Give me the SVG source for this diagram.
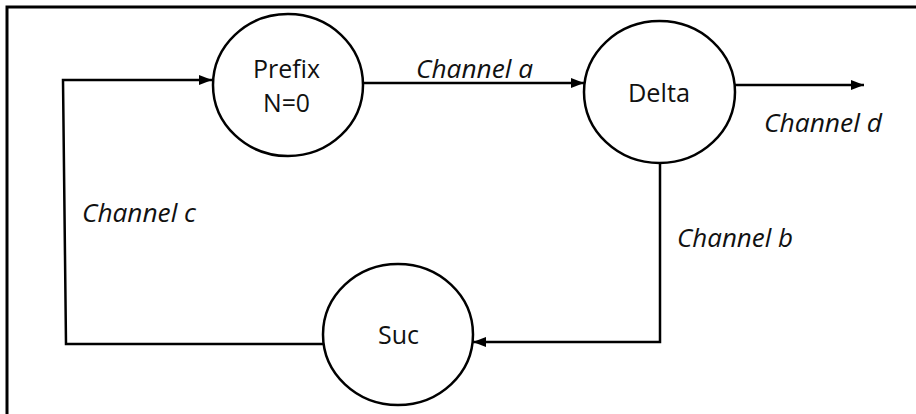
<svg xmlns="http://www.w3.org/2000/svg" width="916" height="414" viewBox="0 0 916 414">
  <style>
    .frame { fill: none; stroke: #000; stroke-width: 3; }
    .node { fill: #fff; stroke: #000; stroke-width: 2.5; }
    .edge { fill: none; stroke: #000; stroke-width: 2.5; }
    .name { font-family: "Open Sans", "Noto Sans", sans-serif; font-size: 25px; fill: #111; }
    .chan { font-family: "Open Sans", "Noto Sans", sans-serif; font-size: 25px; font-style: italic; fill: #111; }
  </style>
  <defs>
    <marker id="arrow" viewBox="0 0 13 10" refX="13" refY="5" markerWidth="13" markerHeight="10" markerUnits="userSpaceOnUse" orient="auto">
      <path d="M0,0 L13,5 L0,10 Z" fill="#000"/>
    </marker>
  </defs>

  <rect width="916" height="414" fill="#fff"/>
  <!-- open frame: top and left rules -->
  <path class="frame" d="M7,414 V7 H916"/>

  <g id="connectors">
    <!-- Channel c: Suc back to Prefix -->
    <path class="edge" d="M323,344 L66,344 L63,80 L212,80" marker-end="url(#arrow)"/>
    <!-- Channel a: Prefix to Delta -->
    <path class="edge" d="M363,83 L584,83" marker-end="url(#arrow)"/>
    <!-- Channel d: Delta output -->
    <path class="edge" d="M735,85 L864,85" marker-end="url(#arrow)"/>
    <!-- Channel b: Delta to Suc -->
    <path class="edge" d="M660,163 L660,342 L473,342" marker-end="url(#arrow)"/>
    <text class="chan" x="416" y="78" textLength="117" lengthAdjust="spacingAndGlyphs">Channel a</text>
    <text class="chan" x="764" y="132" textLength="118" lengthAdjust="spacingAndGlyphs">Channel d</text>
    <text class="chan" x="82" y="222" textLength="114" lengthAdjust="spacingAndGlyphs">Channel c</text>
    <text class="chan" x="677" y="247" textLength="116" lengthAdjust="spacingAndGlyphs">Channel b</text>
  </g>

  <g id="prefix">
    <ellipse class="node" cx="288" cy="85" rx="75" ry="71"/>
    <text class="name" x="253" y="78" textLength="67" lengthAdjust="spacingAndGlyphs">Prefix</text>
    <text class="name" x="263" y="112" textLength="47" lengthAdjust="spacingAndGlyphs">N=0</text>
  </g>

  <g id="delta">
    <ellipse class="node" cx="659.5" cy="92" rx="75.5" ry="71"/>
    <text class="name" x="628" y="102" textLength="62" lengthAdjust="spacingAndGlyphs">Delta</text>
  </g>

  <g id="suc">
    <ellipse class="node" cx="398" cy="334.5" rx="75" ry="70.5"/>
    <text class="name" x="378" y="344" textLength="41" lengthAdjust="spacingAndGlyphs">Suc</text>
  </g>
</svg>
